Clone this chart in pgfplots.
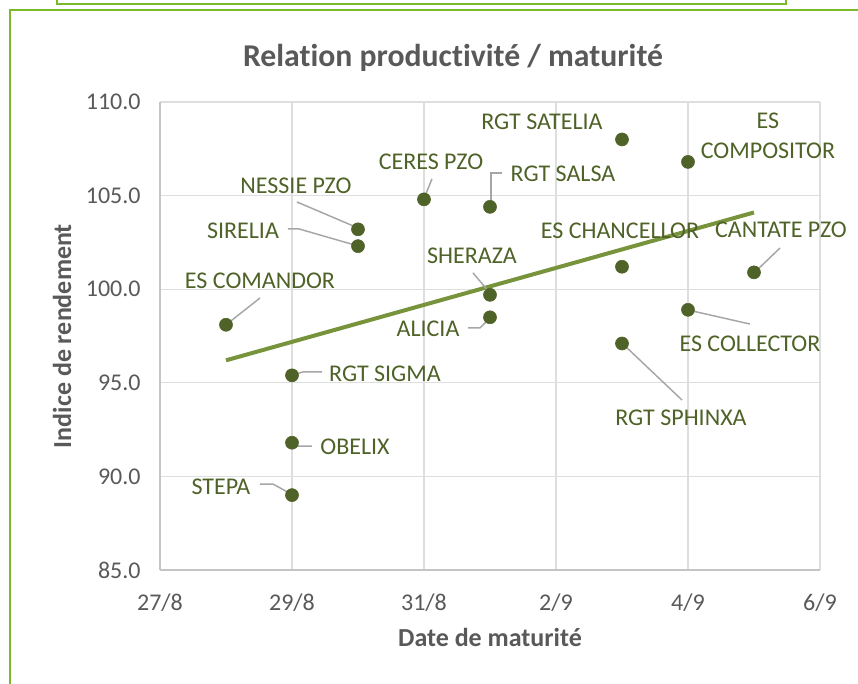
\documentclass[border=0pt]{standalone}
\usepackage{fontspec}
\setmainfont{Carlito}[Ligatures={NoCommon}]
\usepackage{pgfplots}
\pgfplotsset{compat=1.18}

\definecolor{pt}{HTML}{4F6228}
\definecolor{trend}{HTML}{77933C}
\definecolor{lead}{HTML}{A6A6A6}
\definecolor{gridc}{HTML}{DEDEDE}
\definecolor{axc}{HTML}{C4C4C4}
\definecolor{txt}{HTML}{595959}
\definecolor{frame}{HTML}{7AB929}

\tikzset{dl/.style={font=\fontsize{18}{22.5}\selectfont, text=pt, inner sep=0pt}}

% x = days after 27/8
\begin{document}
\begin{tikzpicture}
\begin{scope}[x=0.75pt,y=-0.75pt]
  \useasboundingbox (0,0) rectangle (858,683);
  \draw[frame,line width=1.6pt] (57,-5) -- (57,4) -- (786,4) -- (786,-5);
  \draw[frame,line width=1.6pt] (10,690) -- (10,10) -- (870,10);
\end{scope}

\begin{axis}[
  at={(120pt,-427.5pt)}, anchor=south west,
  scale only axis, width=495pt, height=351pt,
  xmin=0, xmax=10, ymin=85, ymax=110,
  xtick={0,2,...,10},
  xticklabels={27/8,29/8,31/8,2/9,4/9,6/9},
  ytick={85,90,...,110},
  /pgf/number format/.cd, fixed, fixed zerofill, precision=1, assume math mode=true,
  /pgfplots/.cd,
  grid=major, major grid style={gridc, line width=0.8pt},
  axis x line*=bottom, axis y line*=left,
  axis line style={axc, line width=1.1pt, -},
  major tick length=0pt,
  tick label style={font=\fontsize{18}{20}\selectfont, text=txt},
  xticklabel style={yshift=-14pt},
  yticklabel style={xshift=-11pt},
  clip=false,
]
% trend line
\addplot[trend, line width=3pt] coordinates {(1,96.2) (9,104.1)};

% leader lines
\begin{scope}[lead, line width=1.1pt]
\draw (axis cs:4.121,105.89) -- (axis cs:4.015,104.98);
\draw (axis cs:5.182,106.21) -- (axis cs:5.015,106.21) -- (axis cs:5.015,104.60);
\draw (axis cs:2.076,104.66) -- (axis cs:3.0,103.27);
\draw (axis cs:1.939,103.22) -- (axis cs:2.106,103.22) -- (axis cs:3.0,102.31);
\draw (axis cs:9.394,102.20) -- (axis cs:9.015,100.92);
\draw (axis cs:4.742,100.87) -- (axis cs:5.0,99.80);
\draw (axis cs:1.515,99.53) -- (axis cs:1.015,98.14);
\draw (axis cs:4.667,97.93) -- (axis cs:4.848,97.93) -- (axis cs:5.0,98.46);
\draw (axis cs:8.0,98.89) -- (axis cs:8.939,98.14);
\draw (axis cs:2.015,95.42) -- (axis cs:2.167,95.58) -- (axis cs:2.455,95.58);
\draw (axis cs:7.015,97.07) -- (axis cs:7.909,94.08);
\draw (axis cs:2.015,91.78) -- (axis cs:2.091,91.62) -- (axis cs:2.303,91.62);
\draw (axis cs:1.515,89.59) -- (axis cs:1.712,89.59) -- (axis cs:2.015,89.01);
\end{scope}

% varieties
\addplot[only marks, mark=*, mark size=4.9pt, pt, mark options={fill=pt, draw=pt}] coordinates {
  (1,98.1) (2,95.4) (2,91.8) (2,89.0)
  (3,103.2) (3,102.3) (4,104.8)
  (5,104.4) (5,99.7) (5,98.5)
  (7,108.0) (7,101.2) (7,97.1)
  (8,106.8) (8,98.9) (9,100.9)
};

% data labels
\node[dl] at (axis cs:5.788,108.93) {RGT SATELIA};
\node[dl, align=center] at (axis cs:9.212,108.18) {ES\\COMPOSITOR};
\node[dl] at (axis cs:4.106,106.80) {CERES PZO};
\node[dl] at (axis cs:6.106,106.15) {RGT SALSA};
\node[dl] at (axis cs:2.061,105.51) {NESSIE PZO};
\node[dl] at (axis cs:1.258,103.11) {SIRELIA};
\node[dl] at (axis cs:6.970,103.11) {ES CHANCELLOR};
\node[dl] at (axis cs:9.409,103.16) {CANTATE PZO};
\node[dl] at (axis cs:4.727,101.77) {SHERAZA};
\node[dl] at (axis cs:1.515,100.44) {ES COMANDOR};
\node[dl] at (axis cs:4.061,97.87) {ALICIA};
\node[dl] at (axis cs:8.939,97.07) {ES COLLECTOR};
\node[dl] at (axis cs:3.409,95.47) {RGT SIGMA};
\node[dl] at (axis cs:7.894,93.12) {RGT SPHINXA};
\node[dl] at (axis cs:2.955,91.57) {OBELIX};
\node[dl] at (axis cs:0.924,89.43) {STEPA};
\end{axis}

\begin{scope}[x=0.75pt,y=-0.75pt]
  \node[text=txt, font=\fontsize{23.8}{26}\selectfont\bfseries] at (453,58) {Relation productivité / maturité};
  \node[text=txt, font=\fontsize{19.5}{22}\selectfont\bfseries] at (490,637) {Date de maturité};
  \node[text=txt, font=\fontsize{19.5}{22}\selectfont\bfseries, rotate=90] at (62,336) {Indice de rendement};
\end{scope}
\end{tikzpicture}
\end{document}
